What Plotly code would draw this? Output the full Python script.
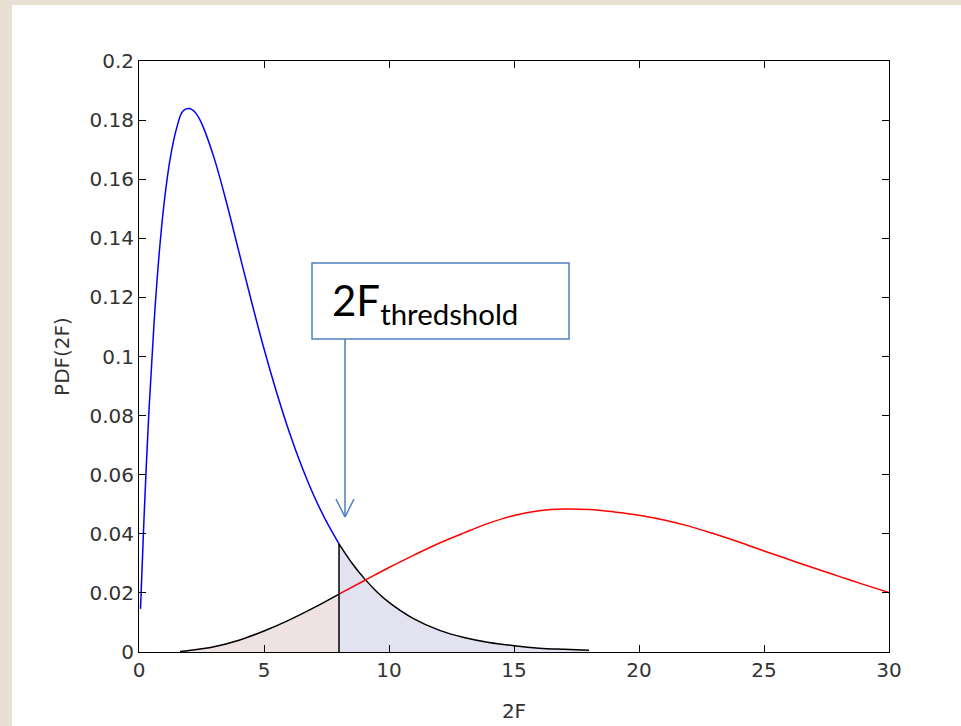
import plotly.graph_objects as go

# ---- data ----
blue_x = [0.06, 0.2, 0.4, 0.6, 0.8, 1.0, 1.25, 1.5, 1.75, 2.0, 2.25, 2.5, 3.0, 3.5, 4.0, 4.5,
          5.0, 5.5, 6.0, 6.5, 7.0, 7.5, 8.0, 8.5, 9.0, 9.5, 10.0, 11.0, 12.0, 13.0, 14.0,
          15.0, 16.0, 17.0, 18.0]
blue_y = [0.0146, 0.0452, 0.0819, 0.1111, 0.1341, 0.1516, 0.1671, 0.1771, 0.1830, 0.1839,
          0.1826, 0.1790, 0.1673, 0.1521, 0.1353, 0.1186, 0.1026, 0.0880, 0.0747, 0.0630,
          0.0528, 0.0441, 0.0366, 0.0303, 0.0250, 0.0205, 0.0168, 0.0112, 0.0074, 0.0049,
          0.0032, 0.0021, 0.0013, 0.0009, 0.0006]

red_x = [1.64, 2, 3, 4, 5, 6, 7, 8, 9, 10, 11, 12, 13, 14, 15, 16, 17, 18, 19, 20,
         21, 22, 23, 24, 25, 26, 27, 28, 29, 30]
red_y = [0.0002, 0.0005, 0.0018, 0.0040, 0.0071, 0.0108, 0.0150, 0.0196, 0.0241, 0.0286,
         0.0328, 0.0368, 0.0403, 0.0436, 0.0462, 0.0478, 0.0484, 0.0482, 0.0474, 0.0463,
         0.0447, 0.0426, 0.0400, 0.0372, 0.0342, 0.0313, 0.0284, 0.0256, 0.0228, 0.0201]

threshold = 8.0
x_ticks = [0, 5, 10, 15, 20, 25, 30]
y_ticks = [0, 0.02, 0.04, 0.06, 0.08, 0.1, 0.12, 0.14, 0.16, 0.18, 0.2]

# split at threshold
b_left = [(x, y) for x, y in zip(blue_x, blue_y) if x <= threshold]
b_right = [(x, y) for x, y in zip(blue_x, blue_y) if x >= threshold]
r_left = [(x, y) for x, y in zip(red_x, red_y) if x <= threshold]
r_right = [(x, y) for x, y in zip(red_x, red_y) if x >= threshold]
thr_y = dict(zip(blue_x, blue_y))[threshold]

fig = go.Figure()
# fills
fig.add_trace(go.Scatter(x=[p[0] for p in r_left], y=[p[1] for p in r_left], mode="lines",
                         line=dict(color="black", width=1.5, shape="spline"),
                         fill="tozeroy", fillcolor="#efe2e2", showlegend=False))
fig.add_trace(go.Scatter(x=[p[0] for p in b_right], y=[p[1] for p in b_right], mode="lines",
                         line=dict(color="black", width=1.5, shape="spline"),
                         fill="tozeroy", fillcolor="#e2e2f0", showlegend=False))
# red above threshold
fig.add_trace(go.Scatter(x=[p[0] for p in r_right], y=[p[1] for p in r_right], mode="lines",
                         line=dict(color="#ff0000", width=1.5, shape="spline"), showlegend=False))
# blue below threshold
fig.add_trace(go.Scatter(x=[p[0] for p in b_left], y=[p[1] for p in b_left], mode="lines",
                         line=dict(color="#0000ff", width=1.5, shape="spline"), showlegend=False))
# threshold line
fig.add_trace(go.Scatter(x=[threshold, threshold], y=[0, thr_y], mode="lines",
                         line=dict(color="black", width=1.5), showlegend=False))

W, H = 961, 726
L, R, T, B = 139, 72, 61, 74
pw, ph = W - L - R, H - T - B


def px(xp):
    return (xp - L) / pw


def py(yp):
    return (H - B - yp) / ph


beige = "#e7dfd2"
shapes = [
    # white page on beige background
    dict(type="rect", xref="paper", yref="paper", x0=px(12), x1=px(W + 5), y0=py(5), y1=py(H + 5),
         fillcolor="white", line=dict(width=0), layer="below"),
    # callout box
    dict(type="rect", xref="paper", yref="paper", x0=px(312), x1=px(569), y0=py(263), y1=py(339),
         fillcolor="white", line=dict(color="#4f81bd", width=1.5), layer="above"),
    # arrow shaft
    dict(type="line", xref="paper", yref="paper", x0=px(345), x1=px(345), y0=py(339), y1=py(517),
         line=dict(color="#4a7ebb", width=1.5)),
    dict(type="line", xref="paper", yref="paper", x0=px(336), x1=px(345), y0=py(499), y1=py(517),
         line=dict(color="#4a7ebb", width=1.5)),
    dict(type="line", xref="paper", yref="paper", x0=px(354), x1=px(345), y0=py(499), y1=py(517),
         line=dict(color="#4a7ebb", width=1.5)),
]

annotations = [
    dict(xref="paper", yref="paper", x=px(330), y=py(303), xanchor="left", yanchor="middle",
         text="2F<sub>thredshold</sub>", showarrow=False,
         font=dict(family="Lato", size=42, color="black")),
]

tick_font = dict(family="DejaVu Sans", size=20, color="#333333")
axis_common = dict(showline=True, linecolor="black", linewidth=1, mirror="allticks",
                   ticks="inside", ticklen=7, tickcolor="black", tickwidth=1,
                   showgrid=False, zeroline=False, tickfont=tick_font, automargin=False)

fig.update_layout(
    width=W, height=H,
    margin=dict(l=L, r=R, t=T, b=B),
    paper_bgcolor=beige, plot_bgcolor="white",
    shapes=shapes, annotations=annotations,
    xaxis=dict(range=[0, 30], tickvals=x_ticks, ticktext=[str(v) for v in x_ticks],
               title=dict(text="2F", standoff=22, font=tick_font),
               **axis_common),
    yaxis=dict(range=[0, 0.2], tickvals=y_ticks, ticktext=[f"{v:g}" for v in y_ticks],
               title=dict(text="PDF(2F)", standoff=14, font=tick_font),
               **axis_common),
)

fig.write_html("out.html")
